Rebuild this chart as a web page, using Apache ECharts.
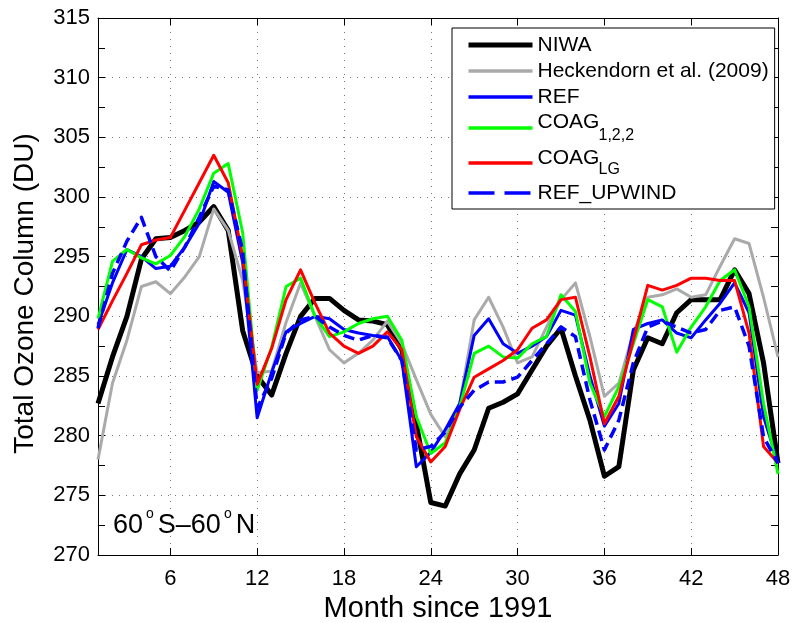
<!DOCTYPE html>
<html>
<head>
<meta charset="utf-8">
<script src="https://cdn.jsdelivr.net/npm/echarts@6/dist/echarts.min.js"></script>
<style>html,body{margin:0;padding:0;background:#fff}#c{width:795px;height:623px}</style>
</head>
<body>
<div id="c"></div>
<script>
const months = Array.from({length: 48}, (_, i) => i + 1);
const xTicks = [6, 12, 18, 24, 30, 36, 42, 48];
const niwa = [282.7,286.6,290.0,294.8,296.5,296.6,297.2,297.9,299.2,297.2,288.8,285.0,283.4,286.9,290.0,291.5,291.5,290.5,289.7,289.6,289.3,287.2,281.0,274.4,274.1,276.8,278.8,282.3,282.8,283.5,285.5,287.5,289.0,285.0,281.3,276.6,277.4,285.5,288.2,287.7,290.3,291.4,291.4,291.4,293.9,291.9,286.1,277.7];
const heckendorn = [278.0,284.4,288.0,292.5,292.9,291.9,293.3,295.0,299.0,297.2,293.0,285.3,285.4,289.5,292.8,290.0,287.2,286.1,286.9,288.0,289.6,287.7,284.7,281.8,279.9,282.7,289.7,291.6,289.1,286.1,286.6,289.1,291.4,292.8,288.3,283.3,284.4,288.6,291.6,291.8,292.3,291.6,291.8,294.2,296.5,296.1,291.6,286.6];
const ref = [289.3,292.8,295.6,295.0,294.0,294.2,295.8,297.8,301.3,300.4,294.5,281.5,285.3,288.7,289.4,290.0,289.8,288.9,288.6,288.4,288.3,286.3,277.4,278.6,280.5,282.7,288.4,289.8,287.7,286.9,287.5,288.3,290.5,290.1,285.0,280.8,282.7,288.9,289.4,289.7,288.6,288.2,289.7,291.1,292.8,290.3,281.6,277.7];
const coag122 = [289.8,294.6,295.6,294.9,294.4,295.1,296.7,299.0,302.0,302.8,297.0,283.8,287.4,292.5,293.2,290.0,288.3,288.7,289.4,289.8,290.0,288.0,281.6,278.5,279.4,282.4,286.9,287.5,286.6,286.5,287.7,288.3,291.8,290.4,284.4,281.6,284.1,287.7,291.4,290.8,287.0,289.1,290.8,293.0,293.9,290.8,282.7,276.8];
const coagLG = [288.9,291.3,293.6,296.0,296.4,296.6,298.9,301.2,303.5,301.2,295.0,284.3,287.3,291.4,293.9,291.1,288.6,287.5,286.9,287.5,288.7,287.2,279.9,277.8,279.1,282.2,284.9,285.6,286.3,287.2,289.0,289.7,291.4,291.6,286.6,281.0,283.3,288.0,292.6,292.2,292.6,293.2,293.2,293.0,293.0,288.6,279.1,277.7];
const refUpwind = [289.0,293.6,296.3,298.3,295.0,293.8,295.8,298.3,300.9,300.6,295.5,282.3,284.8,288.6,289.7,290.0,289.1,288.4,288.0,288.4,288.2,286.3,278.8,279.1,280.3,282.4,283.8,284.5,284.5,284.9,286.3,287.7,289.1,288.3,283.0,278.8,281.3,286.1,289.1,289.6,289.1,288.6,288.9,290.5,290.8,287.5,279.9,277.7];

const seriesNames = ['NIWA', 'Heckendorn et al. (2009)', 'REF', 'COAG_1,2,2', 'COAG_LG', 'REF_UPWIND'];
const seriesData = [niwa, heckendorn, ref, coag122, coagLG, refUpwind];
const colors = ['#000000', '#aaaaaa', '#0000ff', '#00ff00', '#ff0000', '#0000ff'];
const widths = [5, 3, 3, 3, 3, 3.5];
const dashes = ['solid', 'solid', 'solid', 'solid', 'solid', [11, 6]];
const legendDashes = ['solid', 'solid', 'solid', 'solid', 'solid', [26, 10]];

const FONT = 'Liberation Sans, Arial, Helvetica, sans-serif';
const chart = echarts.init(document.getElementById('c'), null, {renderer: 'canvas'});

const series = seriesNames.map((n, i) => ({
  name: n,
  type: 'line',
  data: months.map((m, j) => [m, seriesData[i][j]]),
  showSymbol: false,
  symbol: 'none',
  lineStyle: {color: colors[i], width: widths[i], type: dashes[i], join: 'round', cap: 'butt'},
  itemStyle: {color: colors[i]},
  z: 2 + i,
  animation: false
}));

chart.setOption({
  animation: false,
  textStyle: {fontFamily: FONT},
  grid: {left: 98, right: 17, top: 18, bottom: 68, show: false, containLabel: false, outerBoundsMode: 'none'},
  legend: {
    orient: 'vertical',
    left: 452, top: 28,
    padding: [6, 6, 5, 14],
    backgroundColor: '#fff',
    borderColor: '#000',
    borderWidth: 1,
    itemWidth: 64,
    itemHeight: 22,
    itemGap: 4,
    itemStyle: {color: 'rgba(0,0,0,0)', borderWidth: 0, opacity: 0},
    data: seriesNames.map((n, i) => ({name: n, lineStyle: {type: legendDashes[i], width: i === 0 ? 5 : 3.5, color: colors[i]}})),
    formatter: function (name) {
      if (name === 'COAG_1,2,2') return '{a|COAG}\n{sp| }{s|1,2,2}';
      if (name === 'COAG_LG') return '{b|COAG}\n{sp2| }{t|LG}';
      return '{p|' + name + '}';
    },
    textStyle: {
      fontFamily: FONT, fontSize: 21, lineHeight: 22, color: '#000',
      rich: {
        p: {fontFamily: FONT, fontSize: 21, lineHeight: 22, color: '#000'},
        a: {fontFamily: FONT, fontSize: 21, lineHeight: 16, color: '#000'},
        sp: {fontFamily: FONT, fontSize: 12, lineHeight: 11, width: 61, color: 'rgba(0,0,0,0)'},
        s: {fontFamily: FONT, fontSize: 16, lineHeight: 11, color: '#000'},
        b: {fontFamily: FONT, fontSize: 21, lineHeight: 14, color: '#000'},
        sp2: {fontFamily: FONT, fontSize: 12, lineHeight: 9, width: 61, color: 'rgba(0,0,0,0)'},
        t: {fontFamily: FONT, fontSize: 16, lineHeight: 9, color: '#000'}
      }
    }
  },
  xAxis: [{
    type: 'value', min: 1, max: 48, position: 'bottom',
    name: 'Month since 1991', nameLocation: 'middle', nameGap: 36,
    nameTextStyle: {fontFamily: FONT, fontSize: 29, color: '#000'},
    axisLine: {show: true, onZero: false, lineStyle: {color: '#000', width: 1}},
    axisTick: {show: true, inside: true, length: 7, customValues: xTicks, lineStyle: {color: '#000'}},
    axisLabel: {show: true, customValues: xTicks, fontFamily: FONT, fontSize: 22, color: '#000', margin: 13},
    splitLine: {show: true, lineStyle: {color: '#777', type: [1, 6], width: 1}}
  }, {
    type: 'value', min: 1, max: 48, position: 'top',
    axisLine: {show: true, onZero: false, lineStyle: {color: '#000', width: 1}},
    axisTick: {show: true, inside: true, length: 7, customValues: xTicks, lineStyle: {color: '#000'}},
    axisLabel: {show: false},
    splitLine: {show: false}
  }],
  yAxis: [{
    type: 'value', min: 270, max: 315, interval: 5, position: 'left',
    name: 'Total Ozone Column (DU)', nameLocation: 'middle', nameGap: 59, nameRotate: 90,
    nameTextStyle: {fontFamily: FONT, fontSize: 28, color: '#000', padding: [0, 14, 0, 0]},
    axisLine: {show: true, onZero: false, lineStyle: {color: '#000', width: 1}},
    axisTick: {show: true, inside: true, length: 7, lineStyle: {color: '#000'}},
    minorTick: {show: true, splitNumber: 2, length: 7, lineStyle: {color: '#000'}},
    axisLabel: {fontFamily: FONT, fontSize: 22, color: '#000', margin: 8},
    splitLine: {show: true, lineStyle: {color: '#777', type: [1, 6], width: 1}}
  }, {
    type: 'value', min: 270, max: 315, interval: 5, position: 'right',
    axisLine: {show: true, onZero: false, lineStyle: {color: '#000', width: 1}},
    axisTick: {show: true, inside: true, length: 7, lineStyle: {color: '#000'}},
    minorTick: {show: true, splitNumber: 2, length: 7, lineStyle: {color: '#000'}},
    axisLabel: {show: false},
    splitLine: {show: false}
  }],
  graphic: [{
    type: 'text', left: 113, top: 507, z: 100,
    style: {
      text: '{n|60}{o|o}{n|S–60}{o|o}{n|N}',
      rich: {
        n: {fontFamily: FONT, fontSize: 27, lineHeight: 32, verticalAlign: 'bottom', fill: '#000'},
        o: {fontFamily: FONT, fontSize: 14, lineHeight: 32, verticalAlign: 'top', fill: '#000', padding: [0, 4, 0, 3]}
      }
    }
  }],
  series: series
});
</script>
</body>
</html>
